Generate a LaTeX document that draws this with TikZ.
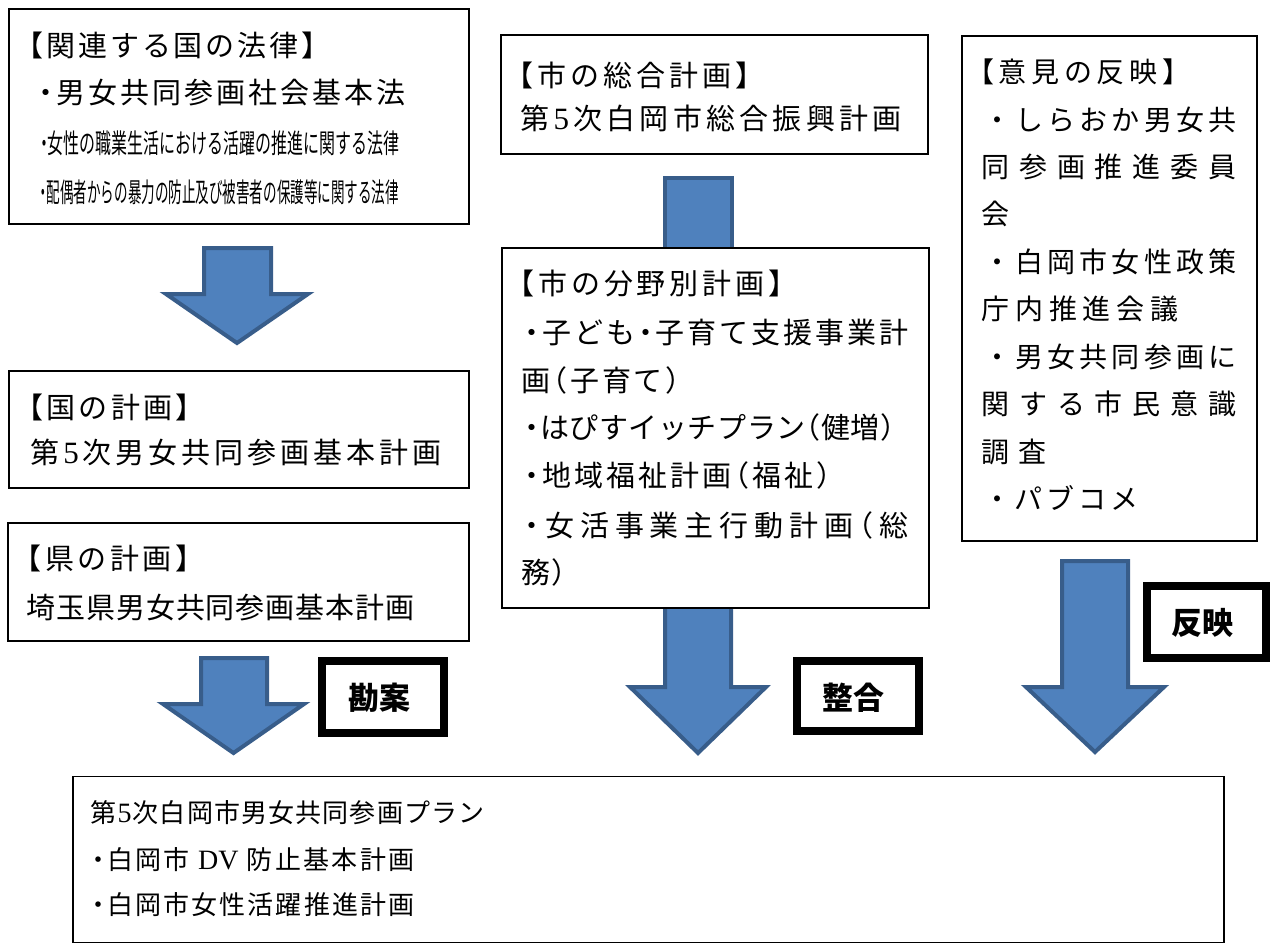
\documentclass[tikz,border=0pt]{standalone}
\usepackage{fontspec}
\usepackage{graphicx}
\setmainfont{Noto Sans CJK JP}
\newfontfamily\jp[RawFeature=+halt]{Noto Sans CJK JP}
\newfontfamily\jpf{Noto Sans CJK JP}
\newfontfamily\lat{Liberation Serif}
\newcommand\fivedigit{\lat\fontsize{31pt}{31pt}\selectfont 5}
\definecolor{arrowfill}{HTML}{4F81BD}
\definecolor{arrowline}{HTML}{385D8A}
\makeatletter
\newcommand\spread[2]{\makebox[#1][s]{\spread@#2\relax\unskip}}
\def\spread@#1{\ifx\relax#1\else{#1}\hfill\expandafter\spread@\fi}
\makeatother
\newcommand\blockarr[7]{\filldraw[arrowshape] (#1,#3) -- (#2,#3) -- (#2,#4) -- (#6,#4) -- ({(#5+#6)/2},#7) -- (#5,#4) -- (#1,#4) -- cycle;}
\tikzset{
  arrowshape/.style={fill=arrowfill,draw=arrowline,line width=4pt,line join=miter},
  thinbox/.style={draw=black,line width=1.8pt,fill=white,inner sep=0pt,outer sep=0pt},
  thickbox/.style={draw=black,line width=8pt,fill=white,inner sep=0pt,outer sep=0pt},
  txt/.style={anchor=base west,inner sep=0pt,outer sep=0pt,font=\jp\fontsize{29pt}{31pt}\selectfont},
  rtxt/.style={anchor=base west,inner sep=0pt,outer sep=0pt,font=\jp\fontsize{28pt}{30pt}\selectfont},
  btxt/.style={anchor=base west,inner sep=0pt,outer sep=0pt,font=\jp\fontsize{26pt}{28pt}\selectfont},
  ctxt/.style={anchor=base west,inner sep=0pt,outer sep=0pt,font=\jp\fontsize{27pt}{29pt}\selectfont},
  lbl/.style={anchor=center,inner sep=0pt,outer sep=0pt,font=\jpf\bfseries\fontsize{31pt}{32pt}\selectfont}
}
\begin{document}
\begin{tikzpicture}[x=1pt,y=-1pt]
\useasboundingbox (0,0) rectangle (1271,945);
\fill[white] (0,0) rectangle (1271,945);
% block arrows (drawn first, boxes cover them)
\blockarr{204}{271}{248}{294}{166}{308}{343}
\blockarr{201}{267}{658}{704}{163}{304}{753}
\filldraw[arrowshape] (665,178) rectangle (732,300);
\blockarr{665}{731}{590}{687}{630}{766}{753}
\blockarr{1062}{1128}{561}{687}{1026}{1164}{752}
% boxes
\node[thinbox,minimum width=460pt,minimum height=215pt] (law) at (239,116.5) {};
\node[thinbox,minimum width=460pt,minimum height=117pt] (kuni) at (239,429.5) {};
\node[thinbox,minimum width=461pt,minimum height=118pt] (ken) at (238.5,582) {};
\node[thinbox,minimum width=427pt,minimum height=119pt] (sogo) at (714.5,94.5) {};
\node[thinbox,minimum width=427pt,minimum height=360pt] (bunya) at (715.5,428) {};
\node[thinbox,minimum width=295pt,minimum height=505pt] (iken) at (1109.5,288.5) {};
\node[thinbox,line width=1.5pt,minimum width=1151pt,minimum height=166pt] (plan) at (648.5,859.5) {};
\node[thickbox,minimum width=122pt,minimum height=72pt] (kanan) at (383,697) {};
\node[thickbox,minimum width=122pt,minimum height=70pt] (seigo) at (857.5,696) {};
\node[thickbox,minimum width=119pt,minimum height=72pt] (hanei) at (1206.5,622) {};
% labels
\node[lbl] (kananT) at (379,698) {勘案};
\node[lbl] (seigoT) at (853,698) {整合};
\node[lbl] (haneiT) at (1202,623) {反映};
% law box
\node[txt] (law1) at (29,56) {\spread{287pt}{【関連する国の法律】}};
\node[txt] (law2) at (39,103) {\spread{367pt}{・男女共同参画社会基本法}};
\node[ctxt] (law3) at (40,153.3) {\resizebox{359pt}{\height}{・女性の職業生活における活躍の推進に関する法律}};
\node[ctxt] (law4) at (40,202.3) {\resizebox{359pt}{\height}{・配偶者からの暴力の防止及び被害者の保護等に関する法律}};
% kuni
\node[txt] (kuni1) at (29,418) {\spread{161pt}{【国の計画】}};
\node[txt] (kuni2) at (30.5,463) {\spread{411pt}{第{\fivedigit}次男女共同参画基本計画}};
% ken
\node[txt] (ken1) at (27,569) {\spread{163pt}{【県の計画】}};
\node[txt] (ken2) at (26.5,618) {\spread{388pt}{埼玉県男女共同参画基本計画}};
% sogo
\node[txt] (sogo1) at (519,86) {\spread{231pt}{【市の総合計画】}};
\node[txt] (sogo2) at (520.5,129) {\spread{381pt}{第{\fivedigit}次白岡市総合振興計画}};
% bunya
\node[txt] (bun1) at (520,294) {\spread{263pt}{【市の分野別計画】}};
\node[txt] (bun2) at (525,343) {\spread{383.5pt}{・子ども・子育て支援事業計}};
\node[txt] (bun3) at (521.5,391) {\spread{158.5pt}{画（子育て）}};
\node[txt] (bun4) at (525,438) {\spread{370pt}{・はぴすイッチプラン（健増）}};
\node[txt] (bun5) at (525,486) {\spread{306pt}{・地域福祉計画（福祉）}};
\node[txt] (bun6) at (525,536) {\spread{383.5pt}{・女活事業主行動計画（総}};
\node[txt] (bun7) at (521.5,583) {\spread{44pt}{務）}};
% iken
\node[rtxt] (ik1) at (980,82.6) {\spread{196pt}{【意見の反映】}};
\node[rtxt] (ik2) at (983,130.1) {\spread{253.5pt}{{\jpf ・}しらおか男女共}};
\node[rtxt] (ik3) at (981.5,177.6) {\spread{255pt}{同参画推進委員}};
\node[rtxt] (ik4) at (981.5,224.6) {会};
\node[rtxt] (ik5) at (983,272.6) {\spread{253.5pt}{{\jpf ・}白岡市女性政策}};
\node[rtxt] (ik6) at (981.5,319.6) {\spread{197pt}{庁内推進会議}};
\node[rtxt] (ik7) at (983,367.6) {\spread{253.5pt}{{\jpf ・}男女共同参画に}};
\node[rtxt] (ik8) at (981.5,414.6) {\spread{255pt}{関する市民意識}};
\node[rtxt] (ik9) at (981.5,462.6) {\spread{65pt}{調査}};
\node[rtxt] (ik10) at (983,509.6) {\spread{155.5pt}{{\jpf ・}パブコメ}};
% plan
\node[btxt] (pl1) at (90.5,822.9) {\spread{394pt}{第{\lat\fontsize{28pt}{28pt}\selectfont 5}次白岡市男女共同参画プラン}};
\node[btxt] (pl2) at (92,869.9) {\spread{322.5pt}{・白岡市{\hspace{6pt}\lat\fontsize{28pt}{28pt}\selectfont DV\hspace{6pt}}防止基本計画}};
\node[btxt] (pl3) at (92,914.9) {\spread{322.5pt}{・白岡市女性活躍推進計画}};
\end{tikzpicture}
\end{document}
